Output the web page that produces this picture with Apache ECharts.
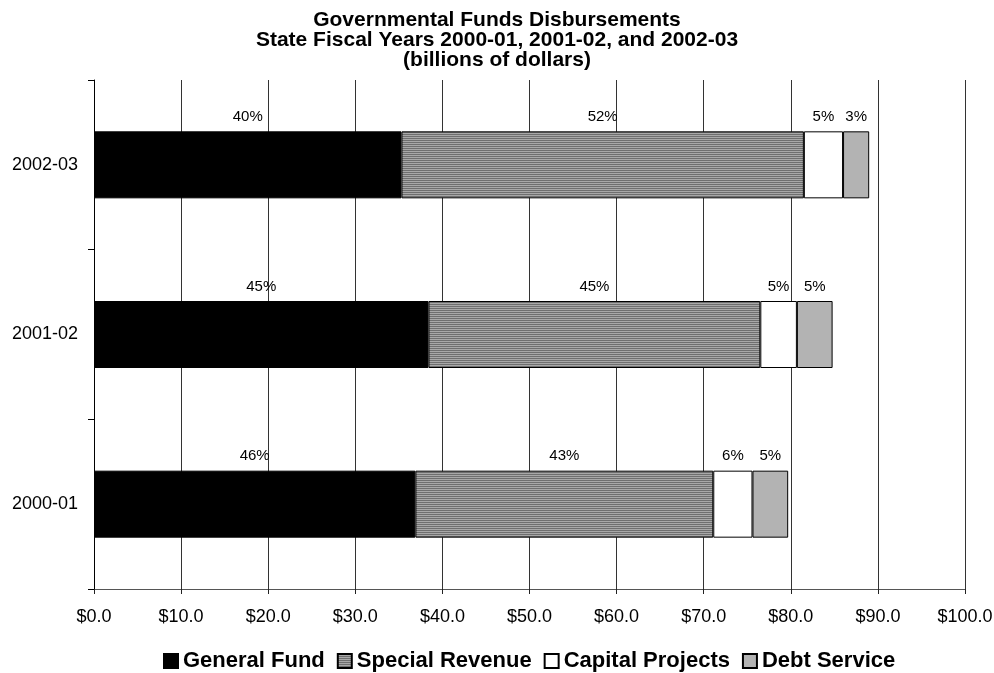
<!DOCTYPE html>
<html>
<head>
<meta charset="utf-8">
<script src="https://cdn.jsdelivr.net/npm/echarts@6/dist/echarts.min.js"></script>
<style>
  html, body { margin: 0; padding: 0; background: #fff; }
  #chart { width: 994px; height: 673px; }
</style>
</head>
<body>
<div id="chart"></div>
<script>
// fiscal years, bottom to top
var years = ['2000-01', '2001-02', '2002-03'];

// billions of dollars
var generalFund    = [36.9, 38.4, 35.3];
var specialRevenue = [34.2, 38.1, 46.2];
var capitalProj    = [4.5, 4.2, 4.5];
var debtService    = [4.1, 4.1, 3.0];

// share of total, printed above each piece
var generalPct = ['46%', '45%', '40%'];
var specialPct = ['43%', '45%', '52%'];
var capitalPct = ['6%', '5%', '5%'];
var debtPct    = ['5%', '5%', '3%'];

var xTicks = [0, 10, 20, 30, 40, 50, 60, 70, 80, 90, 100];

var FONT = 'Arial, "Liberation Sans", sans-serif';

// horizontal stripes for Special Revenue
function stripes() {
  var c = document.createElement('canvas');
  c.width = 4;
  c.height = 2;
  var ctx = c.getContext('2d');
  ctx.fillStyle = '#6f6f6f';
  ctx.fillRect(0, 0, 4, 1);
  ctx.fillStyle = '#a8a8a8';
  ctx.fillRect(0, 1, 4, 1);
  return c;
}

function makeSeries(name, values, pct, fill) {
  return {
    name: name,
    type: 'bar',
    stack: 'total',
    barWidth: 67,
    data: values,
    itemStyle: {
      color: fill,
      borderColor: '#000',
      borderWidth: 1
    },
    label: {
      show: true,
      position: 'top',
      distance: 7,
      color: '#000',
      fontFamily: FONT,
      fontSize: 15,
      formatter: function (p) { return pct[p.dataIndex]; }
    }
  };
}

var chart = echarts.init(document.getElementById('chart'));

var option = {
  backgroundColor: '#fff',
  animation: false,
  title: {
    text: 'Governmental Funds Disbursements\nState Fiscal Years 2000-01, 2001-02, and 2002-03\n(billions of dollars)',
    left: 'center',
    top: 5,
    textStyle: {
      fontFamily: FONT,
      fontSize: 21,
      fontWeight: 'bold',
      lineHeight: 20,
      color: '#000'
    }
  },
  legend: {
    top: 645,
    left: 158,
    icon: 'rect',
    itemWidth: 14,
    itemHeight: 14,
    itemGap: 12,
    selectedMode: false,
    textStyle: {
      fontFamily: FONT,
      fontSize: 22,
      fontWeight: 'bold',
      color: '#000'
    }
  },
  grid: {
    left: 94,
    right: 29,
    top: 80,
    bottom: 84,
    outerBoundsMode: 'none',
    containLabel: false
  },
  xAxis: {
    type: 'value',
    min: xTicks[0],
    max: xTicks[xTicks.length - 1],
    interval: 10,
    axisLine: { show: true, lineStyle: { color: '#555', width: 1 } },
    axisTick: { show: true, length: 5, lineStyle: { color: '#222' } },
    axisLabel: {
      margin: 19,
      color: '#000',
      fontFamily: FONT,
      fontSize: 18,
      formatter: function (v) { return '$' + v.toFixed(1); }
    },
    splitLine: { show: true, lineStyle: { color: '#333', width: 1 } }
  },
  yAxis: {
    type: 'category',
    data: years,
    axisLine: { show: true, lineStyle: { color: '#000', width: 1 } },
    axisTick: { show: true, length: 6, lineStyle: { color: '#000' } },
    axisLabel: {
      margin: 16,
      color: '#000',
      fontFamily: FONT,
      fontSize: 18
    },
    splitLine: { show: false }
  },
  series: [
    makeSeries('General Fund', generalFund, generalPct, '#000'),
    makeSeries('Special Revenue', specialRevenue, specialPct, { image: stripes(), repeat: 'repeat' }),
    makeSeries('Capital Projects', capitalProj, capitalPct, '#fff'),
    makeSeries('Debt Service', debtService, debtPct, '#b3b3b3')
  ]
};

chart.setOption(option);
</script>
</body>
</html>
